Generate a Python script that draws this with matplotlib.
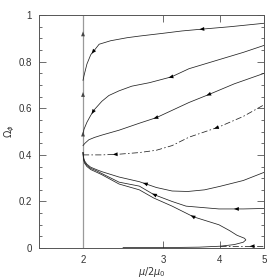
import matplotlib
matplotlib.use('Agg')
import matplotlib.pyplot as plt
import numpy as np

plt.rcParams['font.family'] = ['Liberation Sans', 'DejaVu Sans']
plt.rcParams['mathtext.fontset'] = 'dejavusans'

# trajectories, all ending on the line mu/2mu0 = 2
top_x = [2.0, 2.01, 2.04, 2.08, 2.12, 2.17, 2.3, 2.5, 2.66, 3.0, 3.3, 3.66, 4.2, 4.83, 5.0]
top_y = [0.72, 0.74, 0.79, 0.83, 0.85, 0.875, 0.89, 0.903, 0.91, 0.922, 0.932, 0.94, 0.95, 0.962, 0.965]

mid_x = [2.0, 2.01, 2.04, 2.08, 2.12, 2.2, 2.28, 2.4, 2.56, 2.8, 3.13, 3.42, 4.0, 4.5, 5.0]
mid_y = [0.49, 0.51, 0.54, 0.57, 0.595, 0.63, 0.655, 0.675, 0.695, 0.71, 0.735, 0.77, 0.81, 0.84, 0.87]

low_x = [2.0, 2.02, 2.06, 2.12, 2.2, 2.4, 2.66, 2.9, 3.42, 3.79, 4.3, 5.0]
low_y = [0.44, 0.45, 0.465, 0.475, 0.485, 0.506, 0.536, 0.56, 0.625, 0.66, 0.705, 0.75]

flat_x = [2.0, 2.2, 2.4, 2.66, 2.9, 3.14, 3.42, 3.98, 4.5, 5.0]
flat_y = [0.40, 0.40, 0.403, 0.41, 0.42, 0.44, 0.476, 0.52, 0.565, 0.615]

a_x = [2.0, 2.005, 2.015, 2.04, 2.08, 2.14, 2.2, 2.4, 2.66, 2.9, 3.14, 3.4, 3.7, 4.0, 4.5, 5.0]
a_y = [0.41, 0.39, 0.375, 0.36, 0.347, 0.337, 0.328, 0.305, 0.285, 0.26, 0.245, 0.243, 0.25, 0.265, 0.29, 0.325]

b_x = [2.0, 2.005, 2.015, 2.04, 2.08, 2.14, 2.2, 2.4, 2.66, 2.86, 3.14, 3.37, 3.98, 4.5, 5.0]
b_y = [0.41, 0.385, 0.37, 0.355, 0.342, 0.332, 0.32, 0.283, 0.266, 0.23, 0.2, 0.18, 0.168, 0.168, 0.17]

c_x = [2.0, 2.005, 2.015, 2.04, 2.08, 2.14, 2.2, 2.4, 2.66, 2.86, 3.14, 3.5, 3.98, 4.2, 4.36, 4.53, 4.56,
       4.5, 4.3, 4.0, 3.6, 3.0, 2.45]
c_y = [0.41, 0.38, 0.365, 0.35, 0.337, 0.326, 0.315, 0.275, 0.25, 0.215, 0.18, 0.134, 0.10, 0.075, 0.055, 0.042,
       0.035, 0.025, 0.015, 0.008, 0.004, 0.002, 0.002]

d_x = [4.0, 4.5, 5.0]
d_y = [0.008, 0.008, 0.008]

# arrow positions (x along each curve) and on the vertical line (y)
arrows = [(top_x, top_y, [2.12, 3.66]),
          (mid_x, mid_y, [2.12, 3.13]),
          (low_x, low_y, [2.9, 3.79]),
          (flat_x, flat_y, [2.36, 3.94]),
          (a_x, a_y, [2.75]),
          (b_x, b_y, [2.88, 4.36]),
          (c_x[:17], c_y[:17], [3.5]),
          (d_x, d_y, [4.72])]
vert_arrows = [0.49, 0.66, 0.92]

fig = plt.figure(figsize=(2.8, 2.8), dpi=100)
ax = fig.add_axes([0.139, 0.114, 0.804, 0.832])
ax.set_xscale('log')

ax.plot([2, 2], [0, 1], color='#9a9a9a', lw=0.9)
lw = 0.55
col = '#222222'
ax.plot(top_x, top_y, color=col, lw=lw)
ax.plot(mid_x, mid_y, color=col, lw=lw)
ax.plot(low_x, low_y, color=col, lw=lw)
ax.plot(flat_x, flat_y, color=col, lw=lw, ls=(0, (8, 3, 2, 3)))
ax.plot(a_x, a_y, color=col, lw=lw)
ax.plot(b_x, b_y, color=col, lw=lw)
ax.plot(c_x, c_y, color=col, lw=lw)
ax.plot(d_x, d_y, color=col, lw=lw, ls=(0, (8, 3, 2, 3)))

head = '-|>,head_length=0.5,head_width=0.2'
for xs, ys, pts in arrows:
    for xa in pts:
        ya = np.interp(xa, xs, ys)
        xb = xa * 0.985
        yb = np.interp(xb, xs, ys)
        ax.annotate('', xy=(xb, yb), xytext=(xa, ya),
                    arrowprops=dict(arrowstyle=head, mutation_scale=7, lw=0, color='k'))
for ya in vert_arrows:
    ax.annotate('', xy=(2, ya + 0.01), xytext=(2, ya),
                arrowprops=dict(arrowstyle=head, mutation_scale=7, lw=0, color='#444444'))

ax.set_xlim(1.6, 5)
ax.set_ylim(0, 1)
ax.set_xticks([2, 3, 4, 5])
ax.set_xticklabels(['2', '3', '4', '5'])
ax.xaxis.set_minor_locator(matplotlib.ticker.NullLocator())
ax.set_yticks([0, 0.2, 0.4, 0.6, 0.8, 1])
ax.set_yticklabels(['0', '0.2', '0.4', '0.6', '0.8', '1'])
ax.set_yticks(np.arange(0, 1.001, 0.05), minor=True)
ax.tick_params(which='both', direction='in', top=True, right=True,
               labelsize=7, color='#555555', labelcolor='#333333', width=0.6)
ax.tick_params(which='major', length=5, pad=5)
ax.tick_params(which='minor', length=2.5)
for s in ax.spines.values():
    s.set_color('#555555')
    s.set_linewidth(0.7)

ax.set_xlabel(r'$\mu/2\mu_0$', fontsize=7, labelpad=0, color='#333333')
ax.set_ylabel(r'$\Omega_\phi$', fontsize=7, labelpad=1, color='#333333')

fig.savefig('out.png', dpi=100)
